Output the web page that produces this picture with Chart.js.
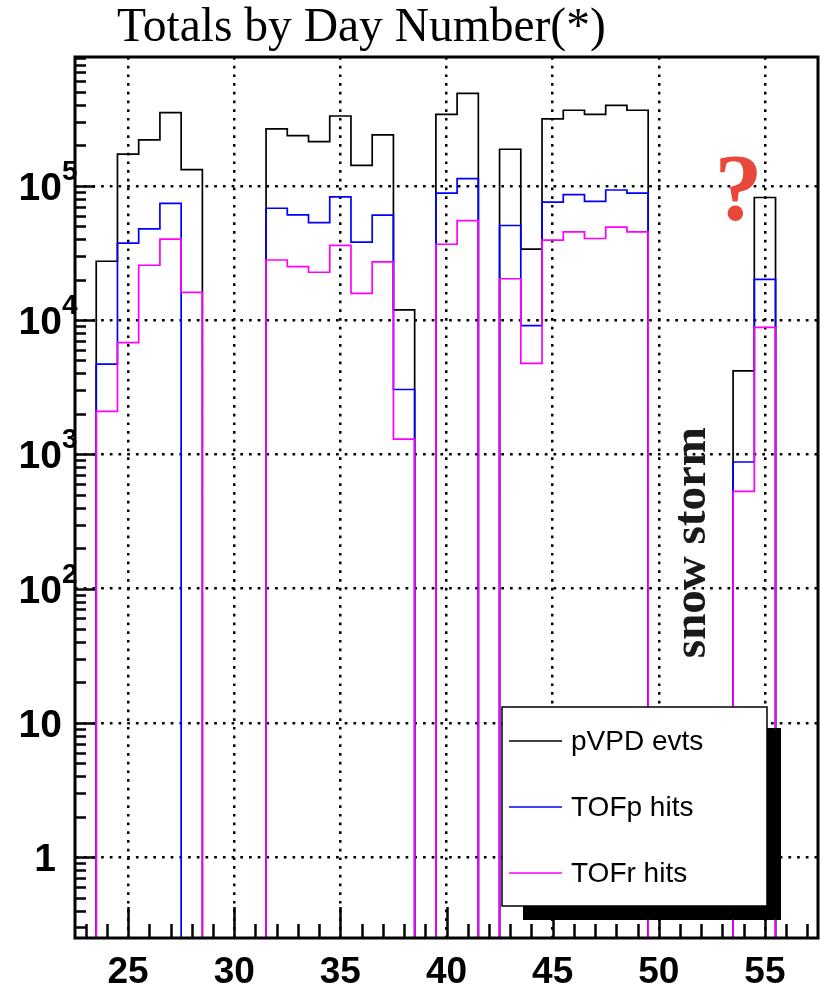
<!DOCTYPE html>
<html>
<head>
<meta charset="utf-8">
<title>Totals by Day Number</title>
<script src="https://cdn.jsdelivr.net/npm/chart.js@4.4.1/dist/chart.umd.min.js"></script>
<style>
    html, body { margin: 0; padding: 0; background: #ffffff; }
    #wrap { width: 820px; height: 990px; }
</style>
</head>
<body>
<div id="wrap"><canvas id="dayChart" width="820" height="990"></canvas></div>
<script>
// One histogram bin per day, bins centred on the day number
const dayNumbers = [23, 24, 25, 26, 27, 28, 29, 30, 31, 32, 33, 34, 35, 36, 37, 38, 39, 40,
                    41, 42, 43, 44, 45, 46, 47, 48, 49, 50, 51, 52, 53, 54, 55, 56, 57];

const pvpdEvents = [0, 27400, 172000, 220000, 350000, 132000, 0, 0, 0,
                    265000, 236000, 213000, 331000, 142000, 239000, 11900, 0, 340000,
                    487000, 0, 187000, 33700, 315000, 365000, 340000, 397000, 365000,
                    0, 0, 0, 0, 4190, 81800, 0, 0];

const tofpHits = [0, 4700, 37400, 47700, 74000, 0, 0, 0, 0,
                  68000, 60800, 53200, 82800, 38000, 60400, 3040, 0, 88200,
                  113000, 0, 50600, 9100, 75500, 86000, 76400, 93000, 88200,
                  0, 0, 0, 0, 877, 20100, 0, 0];

const tofrHits = [0, 2090, 6800, 25600, 40000, 16100, 0, 0, 0,
                  28000, 25000, 22700, 36000, 15800, 27100, 1300, 0, 36700,
                  55000, 0, 20300, 4750, 39400, 45400, 40500, 49200, 45400,
                  0, 0, 0, 0, 530, 8830, 0, 0];

const seriesLabels = ['pVPD evts', 'TOFp hits', 'TOFr hits'];
const seriesColors = ['#000000', '#0000ff', '#ff00ff'];

const xTickValues = [25, 30, 35, 40, 45, 50, 55];
const yTickValues = [1, 10, 100, 1000, 10000, 100000];
const yTickLabels = ['1', '10', '10^2', '10^3', '10^4', '10^5'];

const titleText = 'Totals by Day Number(*)';
const noteText = 'snow storm';

// axis range (log axis, empty bins sit on the bottom of the frame like ROOT does)
const X_MIN = 22.5, X_MAX = 57.5;
const Y_MIN = 0.25, Y_MAX = 9.1e5;

const SANS = "'Liberation Sans', Arial, Helvetica, sans-serif";
const SERIF = "'Liberation Serif', 'Times New Roman', Times, serif";

function histogramPoints(values) {
    const points = [];
    values.forEach((v, i) => {
        const y = v > 0 ? v : Y_MIN;
        points.push({ x: dayNumbers[i] - 0.5, y: y });
        points.push({ x: dayNumbers[i] + 0.5, y: y });
    });
    return points;
}

function makeDataset(idx, values) {
    return {
        label: seriesLabels[idx],
        data: histogramPoints(values),
        borderColor: seriesColors[idx],
        backgroundColor: seriesColors[idx],
        borderWidth: 1.7,
        pointRadius: 0,
        tension: 0,
        fill: false,
        clip: 3,
        order: 3 - idx // TOFr drawn last, on top
    };
}

// ROOT-style frame, inward tick marks, labels, legend and notes
const rootDecorations = {
    id: 'rootDecorations',
    afterDatasetsDraw(chart) {
        const ctx = chart.ctx;
        const area = chart.chartArea;
        const xs = chart.scales.x;
        const ys = chart.scales.y;

        ctx.save();
        ctx.strokeStyle = '#000';
        ctx.lineWidth = 2.5;
        ctx.beginPath();
        // y ticks: 1..9 x 10^n, long at the decades
        for (let d = -1; d <= 6; d++) {
            for (let m = 1; m <= 9; m++) {
                const v = m * Math.pow(10, d);
                if (v < Y_MIN || v > Y_MAX) continue;
                const y = Math.round(ys.getPixelForValue(v)) + 0.5;
                const len = m === 1 ? 20 : 11;
                ctx.moveTo(area.left, y);
                ctx.lineTo(area.left + len, y);
            }
        }
        // x ticks: every day, long every 5
        dayNumbers.forEach(day => {
            const x = Math.round(xs.getPixelForValue(day)) + 0.5;
            const len = day % 5 === 0 ? 31 : 14;
            ctx.moveTo(x, area.bottom);
            ctx.lineTo(x, area.bottom - len);
        });
        ctx.stroke();

        // frame
        ctx.lineWidth = 3;
        ctx.strokeRect(area.left, area.top, area.right - area.left, area.bottom - area.top);

        // x labels
        ctx.fillStyle = '#000';
        ctx.font = 'bold 37px ' + SANS;
        ctx.textAlign = 'center';
        ctx.textBaseline = 'alphabetic';
        xTickValues.forEach(v => {
            ctx.fillText(String(v), xs.getPixelForValue(v), 983);
        });

        // y labels, 10^n with superscript exponent
        yTickValues.forEach((v, i) => {
            const y = ys.getPixelForValue(v);
            const parts = yTickLabels[i].split('^');
            ctx.font = 'bold 39px ' + SANS;
            ctx.textAlign = 'right';
            if (parts.length === 1 && parts[0] === '1') {
                ctx.fillText(parts[0], 56, y + 14);
            } else {
                ctx.fillText(parts[0], 62, y + 14);
            }
            if (parts.length > 1) {
                ctx.font = 'bold 28px ' + SANS;
                ctx.textAlign = 'left';
                ctx.fillText(parts[1], 62, y - 6);
            }
        });

        // title
        ctx.font = '47.5px ' + SERIF;
        ctx.textAlign = 'left';
        ctx.fillText(titleText, 117, 41);

        // notes
        ctx.save();
        ctx.translate(xs.getPixelForValue(52.2), ys.getPixelForValue(220));
        ctx.rotate(-Math.PI / 2);
        ctx.font = 'bold 47px ' + SERIF;
        ctx.textAlign = 'center';
        ctx.fillStyle = '#1a1a1a';
        ctx.fillText(noteText, 0, 0);
        ctx.restore();

        ctx.font = 'bold 96px ' + SERIF;
        ctx.textAlign = 'center';
        ctx.fillStyle = '#e8483a';
        ctx.fillText('?', xs.getPixelForValue(53.75), ys.getPixelForValue(56000));

        // legend with drop shadow
        const bx = 502, by = 707, bw = 265, bh = 199;
        ctx.fillStyle = '#000';
        ctx.fillRect(bx + 21, by + 21, bw - 7, bh - 7);
        ctx.fillStyle = '#fff';
        ctx.fillRect(bx, by, bw, bh);
        ctx.lineWidth = 1.5;
        ctx.strokeStyle = '#000';
        ctx.strokeRect(bx, by, bw, bh);

        ctx.font = '28px ' + SANS;
        ctx.textAlign = 'left';
        ctx.textBaseline = 'middle';
        chart.data.datasets.forEach((ds, i) => {
            const ly = by + 34 + i * 66;
            ctx.strokeStyle = ds.borderColor;
            ctx.lineWidth = 1.5;
            ctx.beginPath();
            ctx.moveTo(bx + 7, ly);
            ctx.lineTo(bx + 60, ly);
            ctx.stroke();
            ctx.fillStyle = '#000';
            ctx.fillText(ds.label, bx + 69, ly + 1);
        });
        ctx.restore();
    }
};

const dotted = [2.7, 6];

new Chart(document.getElementById('dayChart'), {
    type: 'line',
    data: {
        datasets: [
            makeDataset(0, pvpdEvents),
            makeDataset(1, tofpHits),
            makeDataset(2, tofrHits)
        ]
    },
    options: {
        responsive: false,
        animation: false,
        layout: { padding: { left: 75, right: 2, top: 57, bottom: 52 } },
        plugins: {
            legend: { display: false },
            title: { display: false },
            tooltip: { enabled: false }
        },
        scales: {
            x: {
                type: 'linear',
                min: X_MIN,
                max: X_MAX,
                afterBuildTicks: scale => {
                    scale.ticks = xTickValues.map(v => ({ value: v }));
                },
                ticks: { display: false },
                grid: { color: '#000', lineWidth: 2.5, drawTicks: false },
                border: { display: false, dash: dotted }
            },
            y: {
                type: 'logarithmic',
                min: Y_MIN,
                max: Y_MAX,
                afterBuildTicks: scale => {
                    scale.ticks = yTickValues.map(v => ({ value: v }));
                },
                ticks: { display: false },
                grid: { color: '#000', lineWidth: 2.5, drawTicks: false },
                border: { display: false, dash: dotted }
            }
        }
    },
    plugins: [rootDecorations]
});
</script>
</body>
</html>
